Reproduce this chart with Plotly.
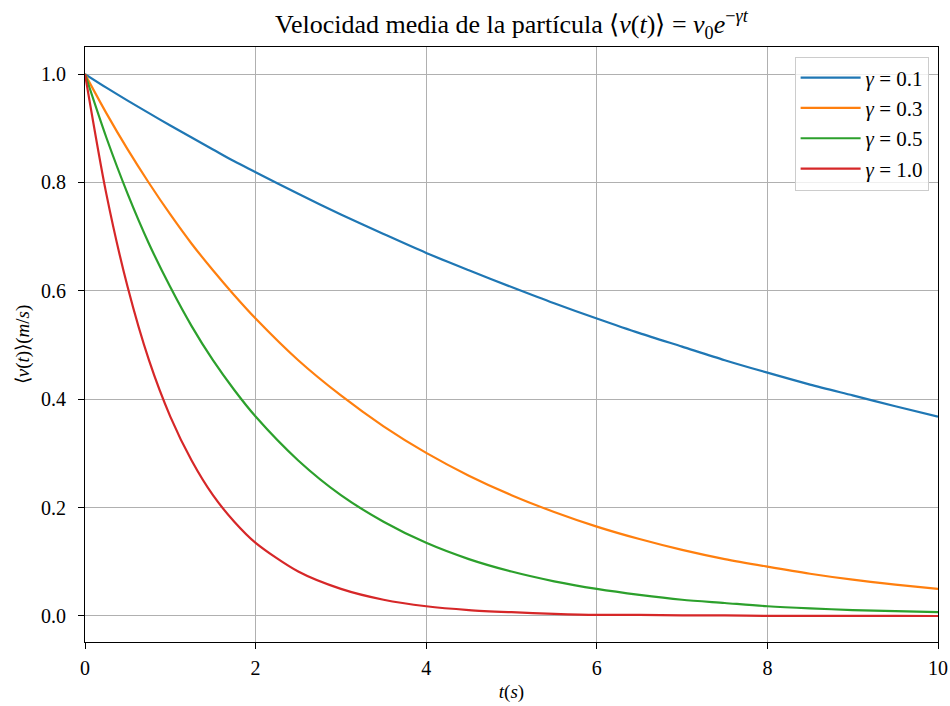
import plotly.graph_objects as go

t = [0, 0.25, 0.5, 0.75, 1, 1.25, 1.5, 1.75, 2, 2.5, 3, 3.5, 4, 4.5, 5, 5.5, 6, 6.5, 7, 7.5, 8, 8.5, 9, 9.5, 10]
v_g01 = [1.0, 0.975, 0.951, 0.928, 0.905, 0.883, 0.861, 0.839, 0.819, 0.779, 0.741, 0.705, 0.670, 0.638, 0.607, 0.577, 0.549, 0.522, 0.497, 0.472, 0.449, 0.427, 0.407, 0.387, 0.368]
v_g03 = [1.0, 0.928, 0.861, 0.799, 0.741, 0.687, 0.638, 0.592, 0.549, 0.472, 0.407, 0.350, 0.301, 0.259, 0.223, 0.192, 0.165, 0.142, 0.122, 0.105, 0.091, 0.078, 0.067, 0.058, 0.050]
v_g05 = [1.0, 0.883, 0.779, 0.687, 0.607, 0.535, 0.472, 0.417, 0.368, 0.287, 0.223, 0.174, 0.135, 0.105, 0.082, 0.064, 0.050, 0.039, 0.030, 0.024, 0.018, 0.014, 0.011, 0.009, 0.007]
v_g10 = [1.0, 0.779, 0.607, 0.472, 0.368, 0.287, 0.223, 0.174, 0.135, 0.082, 0.050, 0.030, 0.018, 0.011, 0.007, 0.004, 0.002, 0.002, 0.001, 0.001, 0.0003, 0.0002, 0.0001, 0.0001, 0.0]
labels = ["<i>γ</i> = 0.1", "<i>γ</i> = 0.3", "<i>γ</i> = 0.5", "<i>γ</i> = 1.0"]
colors = ["#1f77b4", "#ff7f0e", "#2ca02c", "#d62728"]
x_ticks = [0, 2, 4, 6, 8, 10]
y_ticks = [0.0, 0.2, 0.4, 0.6, 0.8, 1.0]

font = "Liberation Serif"
fig = go.Figure()
for i, (ys, lab, c) in enumerate(zip([v_g01, v_g03, v_g05, v_g10], labels, colors)):
    fig.add_trace(go.Scatter(x=t, y=ys, mode="lines", name=lab, legendgroup=f"g{i}",
                             line=dict(color=c, width=2.2, shape="spline", smoothing=0.8)))

fig.update_layout(
    width=950, height=706,
    paper_bgcolor="white", plot_bgcolor="white",
    margin=dict(l=85, r=12, t=47, b=64, autoexpand=False),
    font=dict(family=font, size=20, color="black"),
    title=dict(text="Velocidad media de la partícula ⟨<i>v</i>(<i>t</i>)⟩ = <i>v</i><sub>0</sub><i>e</i><sup>−<i>γt</i></sup>",
               x=0.5383, xanchor="center", y=0.966, yanchor="middle",
               font=dict(size=26, family=font)),
    legend=dict(x=0.989, y=0.984, xanchor="right", yanchor="top",
                bgcolor="rgba(255,255,255,0.8)", bordercolor="#cccccc", borderwidth=1,
                font=dict(size=21, family=font), tracegroupgap=0, itemwidth=60),
    showlegend=True,
)
fig.update_xaxes(range=[0, 10], tickvals=x_ticks, ticktext=[str(v) for v in x_ticks],
                 showgrid=True, gridcolor="#b0b0b0", gridwidth=1, zeroline=False,
                 showline=True, linecolor="black", linewidth=1.2, mirror=True,
                 ticks="outside", ticklen=6, tickcolor="black", automargin=False,
                 tickfont=dict(size=20), ticklabelstandoff=2,
                 title=dict(text="<i>t</i>(<i>s</i>)", font=dict(size=19), standoff=6))
fig.update_yaxes(range=[-0.048, 1.05], tickvals=y_ticks, ticktext=[f"{v:.1f}" for v in y_ticks],
                 showgrid=True, gridcolor="#b0b0b0", gridwidth=1, zeroline=False,
                 showline=True, linecolor="black", linewidth=1.2, mirror=True,
                 ticks="outside", ticklen=6, tickcolor="black", automargin=False,
                 tickfont=dict(size=20), ticklabelstandoff=8,
                 title=dict(text="⟨<i>v</i>(<i>t</i>)⟩(<i>m</i>/<i>s</i>)", font=dict(size=19), standoff=6))

fig.write_html("out.html", config={"displayModeBar": False},
               post_script="document.body.style.margin='0';")
